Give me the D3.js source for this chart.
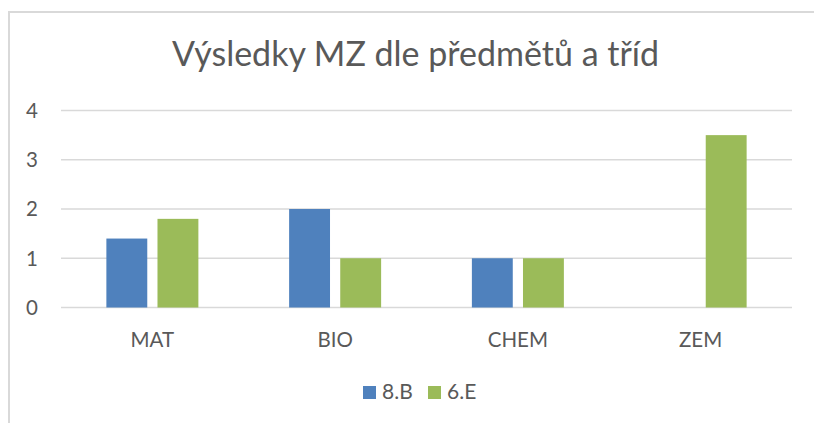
<!DOCTYPE html>
<html>
<head>
<meta charset="utf-8">
<script src="https://cdn.jsdelivr.net/npm/d3@7"></script>
<style>
body { margin: 0; background: white; }
text { font-family: Lato, "Open Sans", sans-serif; fill: #595959; }
</style>
</head>
<body>
<div id="chart"></div>
<script>
// data
var categories = ["MAT", "BIO", "CHEM", "ZEM"];
var series = ["8.B", "6.E"];
var values8B = [1.4, 2, 1, null];
var values6E = [1.8, 1, 1, 3.5];
var yTicks = [0, 1, 2, 3, 4];
var colors = ["#4f81bd", "#9bbb59"];

var width = 814,
    height = 423,
    margin = {top: 110.5, right: 22, bottom: 115.5, left: 61};

var svg = d3.select("#chart").append("svg")
    .attr("width", width)
    .attr("height", height);

svg.append("rect")
    .attr("width", width)
    .attr("height", height)
    .attr("fill", "white");

// chart frame (cut off on right and bottom)
svg.append("rect")
    .attr("x", 9)
    .attr("y", 12)
    .attr("width", 840)
    .attr("height", 450)
    .attr("fill", "none")
    .attr("stroke", "#d9d9d9")
    .attr("stroke-width", 2);

svg.append("text")
    .attr("x", 415.5)
    .attr("y", 66)
    .attr("text-anchor", "middle")
    .attr("font-size", 34)
    .text("Výsledky MZ dle předmětů a tříd");

var y = d3.scaleLinear()
    .domain([0, 4])
    .range([height - margin.bottom, margin.top]);

var x = d3.scaleBand()
    .domain(categories)
    .range([margin.left, width - margin.right]);

var x1 = d3.scaleBand()
    .domain(series)
    .range([x.bandwidth() / 2 - 46, x.bandwidth() / 2 + 46])
    .paddingInner(0.2);

// gridlines
svg.append("g")
    .selectAll("line")
    .data(yTicks)
    .enter().append("line")
    .attr("x1", margin.left)
    .attr("x2", width - margin.right)
    .attr("y1", function(d) { return y(d); })
    .attr("y2", function(d) { return y(d); })
    .attr("stroke", "#d9d9d9")
    .attr("stroke-width", 1.3);

// y labels
svg.append("g")
    .selectAll("text")
    .data(yTicks)
    .enter().append("text")
    .attr("x", 38)
    .attr("y", function(d) { return y(d); })
    .attr("dy", "0.36em")
    .attr("text-anchor", "end")
    .attr("font-size", 20.5)
    .text(function(d) { return d; });

// bars
var rows = categories.map(function(c, i) {
    return {cat: c, vals: [values8B[i], values6E[i]]};
});

var groups = svg.append("g")
    .selectAll("g")
    .data(rows)
    .enter().append("g")
    .attr("transform", function(d) { return "translate(" + x(d.cat) + ",0)"; });

groups.selectAll("rect")
    .data(function(d) {
        return series.map(function(s, j) { return {s: s, v: d.vals[j], c: colors[j]}; })
            .filter(function(e) { return e.v != null; });
    })
    .enter().append("rect")
    .attr("x", function(d) { return x1(d.s); })
    .attr("width", x1.bandwidth())
    .attr("y", function(d) { return y(d.v); })
    .attr("height", function(d) { return y(0) - y(d.v); })
    .attr("fill", function(d) { return d.c; });

// category labels
svg.append("g")
    .selectAll("text")
    .data(categories)
    .enter().append("text")
    .attr("x", function(d) { return x(d) + x.bandwidth() / 2; })
    .attr("y", 347)
    .attr("text-anchor", "middle")
    .attr("font-size", 20.5)
    .text(function(d) { return d; });

// legend
var legendX = [363, 428];
var legend = svg.append("g")
    .selectAll("g")
    .data(series)
    .enter().append("g")
    .attr("transform", function(d, i) { return "translate(" + legendX[i] + ",386)"; });

legend.append("rect")
    .attr("width", 13)
    .attr("height", 13)
    .attr("fill", function(d, i) { return colors[i]; });

legend.append("text")
    .attr("x", 19)
    .attr("y", 13)
    .attr("font-size", 21)
    .text(function(d) { return d; });
</script>
</body>
</html>
